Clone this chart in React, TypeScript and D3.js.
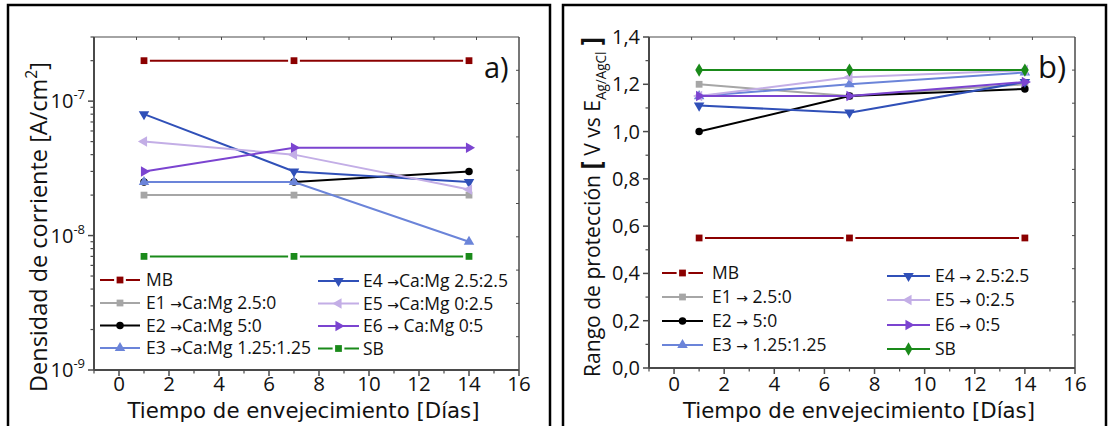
import React from "react";
import * as d3 from "d3";

// dias de envejecimiento
const days = [1, 7, 14];
const seriesKeys = ["MB", "E1", "E2", "E3", "E4", "E5", "E6", "SB"];

// a) densidad de corriente [A/cm2]
const densMB = [2e-7, 2e-7, 2e-7];
const densE1 = [2e-8, 2e-8, 2e-8];
const densE2 = [2.5e-8, 2.5e-8, 3e-8];
const densE3 = [2.5e-8, 2.5e-8, 9e-9];
const densE4 = [8e-8, 3e-8, 2.5e-8];
const densE5 = [5e-8, 4e-8, 2.2e-8];
const densE6 = [3e-8, 4.5e-8, 4.5e-8];
const densSB = [7e-9, 7e-9, 7e-9];
const labelsA = ["MB", "E1 →Ca:Mg 2.5:0", "E2 →Ca:Mg 5:0", "E3 →Ca:Mg 1.25:1.25",
  "E4 →Ca:Mg 2.5:2.5", "E5 →Ca:Mg 0:2.5", "E6 → Ca:Mg 0:5", "SB"];

// b) rango de proteccion [V vs Ag/AgCl]
const rangoMB = [0.55, 0.55, 0.55];
const rangoE1 = [1.2, 1.15, 1.2];
const rangoE2 = [1.0, 1.15, 1.18];
const rangoE3 = [1.15, 1.2, 1.25];
const rangoE4 = [1.11, 1.08, 1.21];
const rangoE5 = [1.15, 1.23, 1.26];
const rangoE6 = [1.15, 1.15, 1.21];
const rangoSB = [1.26, 1.26, 1.26];
const labelsB = ["MB", "E1 → 2.5:0", "E2 → 5:0", "E3 → 1.25:1.25",
  "E4 → 2.5:2.5", "E5 → 0:2.5", "E6 → 0:5", "SB"];

const xTicks = [0, 2, 4, 6, 8, 10, 12, 14, 16];
const xMinor = [-1, 1, 3, 5, 7, 9, 11, 13, 15];
const logMajor = [1e-9, 1e-8, 1e-7];
const linMajor = [0, 0.2, 0.4, 0.6, 0.8, 1.0, 1.2, 1.4];
const linMinor = [0.1, 0.3, 0.5, 0.7, 0.9, 1.1, 1.3];

const FONT = "'Open Sans', 'DejaVu Sans', sans-serif";
const AXIS = "#4a4a4a";

const colors: Record<string, string> = {
  MB: "#8b0000", E1: "#a6a6a6", E2: "#000000", E3: "#6b84d9",
  E4: "#3050b8", E5: "#c3aee6", E6: "#7b44d0", SB: "#1a8a1a",
};

const tri = d3.symbol().type(d3.symbolTriangle).size(48);
const markerPath: Record<string, string> = {
  square: d3.symbol().type(d3.symbolSquare).size(46)() as string,
  circle: d3.symbol().type(d3.symbolCircle).size(44)() as string,
  diamond: d3.symbol().type(d3.symbolDiamond).size(52)() as string,
  tri: tri() as string,
};
const markerRot: Record<string, number> = { up: 0, down: 180, left: -90, right: 90 };

function Marker({ shape, x, y, color, gap }: any) {
  const rot = markerRot[shape];
  const d = rot !== undefined ? markerPath.tri : markerPath[shape];
  return (
    <path
      d={d}
      transform={`translate(${x},${y}) rotate(${rot || 0})`}
      fill={color}
      stroke={gap ? "#fff" : "none"}
      strokeWidth={gap ? 5 : 0}
      style={{ paintOrder: "stroke" }}
    />
  );
}

function LegendText({ x, y, label }: any) {
  const parts = label.split("→");
  return (
    <text x={x} y={y + 6} fontSize={17.5} fontFamily={FONT} fill="#111">
      {parts[0]}
      {parts.length > 1 && <tspan fontSize={14} fontFamily="'DejaVu Sans'">→</tspan>}
      {parts.length > 1 && parts[1]}
    </text>
  );
}

function Panel({ frameX, frameW, plot, y, series, shapes, gaps, labels, legend, yTicks, yMinor, yFmt, tag, tagSize, children }: any) {
  const x = d3.scaleLinear().domain([-1, 16]).range([plot.x0, plot.x1]);
  const topT = d3.scaleLinear().domain([0, 10]).range([plot.x0, plot.x1]);
  const rightT = d3.scaleLinear().domain([0, 10]).range([plot.y1, plot.y0]);
  const line = d3.line<number>().x((_, i) => x(days[i])).y((v) => y(v));
  return (
    <g>
      <rect x={frameX} y={5} width={frameW} height={480} fill="none" stroke="#000" strokeWidth={2.5} />
      {/* top and right frame axes */}
      <line x1={plot.x0} x2={plot.x1} y1={plot.y0} y2={plot.y0} stroke={AXIS} strokeWidth={1.2} />
      <line x1={plot.x1} x2={plot.x1} y1={plot.y0} y2={plot.y1} stroke={AXIS} strokeWidth={1.5} />
      {d3.range(1, 10).map((i) => (
        <g key={"tt" + i}>
          <line x1={topT(i)} x2={topT(i)} y1={plot.y0} y2={plot.y0 + 3} stroke={AXIS} />
          <line x1={plot.x1} x2={plot.x1 - 3} y1={rightT(i)} y2={rightT(i)} stroke={AXIS} />
        </g>
      ))}
      {/* left axis */}
      <line x1={plot.x0} x2={plot.x0} y1={plot.y0} y2={plot.y1} stroke={AXIS} strokeWidth={2} />
      {yTicks.map((t: number) => (
        <g key={"y" + t}>
          <line x1={plot.x0 - 6} x2={plot.x0} y1={y(t)} y2={y(t)} stroke={AXIS} strokeWidth={1.5} />
          {yFmt(t, plot.x0 - 9, y(t))}
        </g>
      ))}
      {yMinor.map((t: number, i: number) => (
        <line key={"ym" + i} x1={plot.x0 - 3.5} x2={plot.x0} y1={y(t)} y2={y(t)} stroke={AXIS} strokeWidth={1.2} />
      ))}
      {/* bottom axis */}
      <line x1={plot.x0} x2={plot.x1} y1={plot.y1} y2={plot.y1} stroke={AXIS} strokeWidth={2} />
      {xTicks.map((t) => (
        <g key={"x" + t}>
          <line x1={x(t)} x2={x(t)} y1={plot.y1} y2={plot.y1 + 6} stroke={AXIS} strokeWidth={1.5} />
          <text x={x(t)} y={391} textAnchor="middle" fontSize={20.5} fontFamily={FONT} fill="#111">{t}</text>
        </g>
      ))}
      {xMinor.map((t) => (
        <line key={"xm" + t} x1={x(t)} x2={x(t)} y1={plot.y1} y2={plot.y1 + 3.5} stroke={AXIS} strokeWidth={1.2} />
      ))}
      <text x={(plot.x0 + plot.x1) / 2 - 3} y={418} textAnchor="middle" fontSize={22} fontFamily="'DejaVu Sans'"
        fill="#111" textLength={352} lengthAdjust="spacingAndGlyphs">
        Tiempo de envejecimiento [Días]
      </text>
      {/* series */}
      {seriesKeys.map((k, si) => (
        <g key={k}>
          <path d={line(series[si]) as string} fill="none" stroke={colors[k]} strokeWidth={2} />
          {series[si].map((v: number, i: number) => (
            <Marker key={i} shape={shapes[si]} x={x(days[i])} y={y(v)} color={colors[k]} gap={gaps[si]} />
          ))}
        </g>
      ))}
      {/* legend */}
      {seriesKeys.map((k, si) => {
        const col = si < 4 ? legend.c1 : legend.c2;
        const ry = col.rows[si % 4];
        return (
          <g key={"lg" + k}>
            <line x1={col.x0} x2={col.x1} y1={ry} y2={ry} stroke={colors[k]} strokeWidth={2} />
            <Marker shape={shapes[si]} x={(col.x0 + col.x1) / 2} y={ry} color={colors[k]} gap={gaps[si]} />
            <LegendText x={col.tx} y={ry} label={labels[si]} />
          </g>
        );
      })}
      <text x={tag.x} y={tag.y} fontSize={tagSize} fontFamily={FONT} fill="#111">{tag.t}</text>
      {children}
    </g>
  );
}

export default function App() {
  const plotA = { x0: 94, x1: 519, y0: 37, y1: 370 };
  const plotB = { x0: 649, x1: 1075, y0: 37, y1: 368 };
  const yA = d3.scaleLog().domain([1e-9, 3e-7]).range([plotA.y1, plotA.y0]);
  const yB = d3.scaleLinear().domain([0, 1.4]).range([plotB.y1, plotB.y0]);
  const minorA: number[] = [];
  [1e-9, 1e-8, 1e-7].forEach((d) => d3.range(2, 10).forEach((m) => { if (m * d <= 3e-7) minorA.push(m * d); }));

  const fmtA = (t: number, xr: number, yy: number) => (
    <text x={xr} y={yy + 7} textAnchor="end" fontSize={20} fontFamily={FONT} fill="#111">
      10<tspan fontSize={13} dy={-9}>{String(Math.round(Math.log10(t)))}</tspan>
    </text>
  );
  const fmtB = (t: number, xr: number, yy: number) => (
    <text x={xr} y={yy + 7} textAnchor="end" fontSize={20} fontFamily={FONT} fill="#111">
      {d3.format(".1f")(t).replace(".", ",")}
    </text>
  );

  return (
    <div style={{ position: "fixed", left: 0, top: 0 }}>
      <svg width={1108} height={426} style={{ display: "block", background: "#fff" }}>
        <Panel
          frameX={8} frameW={542} plot={plotA} y={yA}
          series={[densMB, densE1, densE2, densE3, densE4, densE5, densE6, densSB]}
          shapes={["square", "square", "circle", "up", "down", "left", "right", "square"]}
          gaps={[true, false, false, false, false, false, false, true]}
          labels={labelsA}
          legend={{
            c1: { x0: 100, x1: 140, tx: 146, rows: [280, 303, 325.5, 348] },
            c2: { x0: 318, x1: 359, tx: 363, rows: [281, 303.5, 326, 348.5] },
          }}
          yTicks={logMajor} yMinor={minorA} yFmt={fmtA}
          tag={{ x: 484, y: 78, t: "a)" }} tagSize={29}
        >
          <text transform="translate(47,227) rotate(-90)" textAnchor="middle" fontSize={24} fontFamily={FONT}
            fill="#111" textLength={330} lengthAdjust="spacingAndGlyphs">
            Densidad de corriente [A/cm<tspan fontSize={16} dy={-10}>2</tspan><tspan dy={10}>]</tspan>
          </text>
        </Panel>
        <Panel
          frameX={563} frameW={543} plot={plotB} y={yB}
          series={[rangoMB, rangoE1, rangoE2, rangoE3, rangoE4, rangoE5, rangoE6, rangoSB]}
          shapes={["square", "square", "circle", "up", "down", "left", "right", "diamond"]}
          gaps={[true, false, false, false, false, false, false, false]}
          labels={labelsB}
          legend={{
            c1: { x0: 662, x1: 703, tx: 712, rows: [273, 297, 321, 345] },
            c2: { x0: 887, x1: 930, tx: 935, rows: [276, 300, 325, 349] },
          }}
          yTicks={linMajor} yMinor={linMinor} yFmt={fmtB}
          tag={{ x: 1038, y: 78, t: "b)" }} tagSize={31}
        >
          <text transform="translate(600,207) rotate(-90)" textAnchor="middle" fontSize={22} fontFamily={FONT}
            fill="#111" textLength={340} lengthAdjust="spacingAndGlyphs">
            Rango de protección <tspan fontWeight="bold" fontSize={26}>[</tspan> V vs E
            <tspan fontSize={14} dy={6}>Ag/AgCl</tspan>
            <tspan dy={-6} fontWeight="bold" fontSize={26}> ]</tspan>
          </text>
        </Panel>
      </svg>
    </div>
  );
}
